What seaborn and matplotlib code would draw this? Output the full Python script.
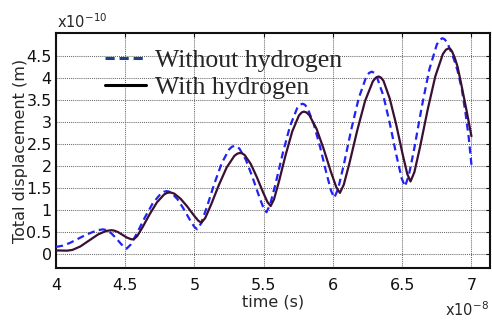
import matplotlib
matplotlib.use("Agg")
import matplotlib.pyplot as plt
import seaborn as sns
import pandas as pd
from matplotlib.lines import Line2D

# time in units of 1e-8 s, displacement in units of 1e-10 m
solid_x = [4.00, 4.08, 4.118, 4.176, 4.24, 4.304, 4.362, 4.40, 4.419, 4.448, 4.48, 4.512, 4.541, 4.56,
           4.586, 4.625, 4.677, 4.729, 4.781, 4.802, 4.82, 4.836, 4.855, 4.90, 4.947, 4.993, 5.027, 5.05,
           5.078, 5.12, 5.176, 5.232, 5.288, 5.310, 5.33, 5.345, 5.363, 5.407, 5.451, 5.495, 5.528, 5.55,
           5.574, 5.61, 5.658, 5.706, 5.754, 5.773, 5.79, 5.808, 5.829, 5.881, 5.933, 5.985, 6.024, 6.05,
           6.078, 6.12, 6.176, 6.232, 6.288, 6.310, 6.33, 6.346, 6.365, 6.41, 6.457, 6.503, 6.537, 6.56,
           6.588, 6.629, 6.684, 6.739, 6.794, 6.816, 6.835, 6.848, 6.86, 6.88, 6.90, 6.93, 6.965, 7.00]
solid_y = [0.07, 0.065, 0.081, 0.161, 0.298, 0.434, 0.514, 0.53, 0.523, 0.487, 0.425, 0.363, 0.327, 0.32,
           0.395, 0.598, 0.898, 1.165, 1.345, 1.379, 1.39, 1.383, 1.361, 1.245, 1.073, 0.879, 0.748, 0.70,
           0.811, 1.113, 1.559, 1.956, 2.223, 2.274, 2.29, 2.278, 2.239, 2.036, 1.733, 1.395, 1.165, 1.08,
           1.231, 1.639, 2.241, 2.779, 3.140, 3.209, 3.23, 3.212, 3.152, 2.842, 2.379, 1.861, 1.510, 1.38,
           1.566, 2.069, 2.811, 3.474, 3.919, 4.004, 4.03, 4.006, 3.930, 3.528, 2.931, 2.261, 1.807, 1.64,
           1.852, 2.428, 3.276, 4.034, 4.543, 4.640, 4.67, 4.655, 4.60, 4.45, 4.25, 3.80, 3.25, 2.67]

dashed_x = [4.00, 4.05, 4.10, 4.15, 4.20, 4.25, 4.30, 4.34, 4.366, 4.40, 4.434, 4.468, 4.493, 4.51,
            4.539, 4.583, 4.641, 4.699, 4.757, 4.780, 4.80, 4.815, 4.833, 4.877, 4.921, 4.965, 4.998, 5.02,
            5.047, 5.088, 5.142, 5.196, 5.25, 5.271, 5.29, 5.306, 5.325, 5.371, 5.417, 5.463, 5.497, 5.52,
            5.546, 5.585, 5.637, 5.689, 5.741, 5.762, 5.78, 5.796, 5.815, 5.86, 5.907, 5.953, 5.987, 6.01,
            6.037, 6.078, 6.132, 6.186, 6.24, 6.261, 6.28, 6.297, 6.316, 6.364, 6.412, 6.46, 6.496, 6.52,
            6.547, 6.588, 6.642, 6.696, 6.75, 6.771, 6.79, 6.805, 6.826, 6.874, 6.90, 6.93, 6.957, 6.98, 7.00]
dashed_y = [0.15, 0.18, 0.24, 0.32, 0.40, 0.47, 0.53, 0.55, 0.532, 0.458, 0.348, 0.224, 0.141, 0.11,
            0.202, 0.451, 0.817, 1.145, 1.365, 1.407, 1.42, 1.411, 1.383, 1.237, 1.020, 0.776, 0.611, 0.55,
            0.683, 1.044, 1.576, 2.051, 2.370, 2.431, 2.45, 2.435, 2.387, 2.133, 1.755, 1.333, 1.046, 0.94,
            1.113, 1.582, 2.274, 2.891, 3.306, 3.385, 3.41, 3.389, 3.320, 2.961, 2.426, 1.826, 1.420, 1.27,
            1.471, 2.016, 2.820, 3.537, 4.019, 4.111, 4.14, 4.114, 4.030, 3.592, 2.939, 2.209, 1.713, 1.53,
            1.766, 2.406, 3.350, 4.192, 4.758, 4.866, 4.90, 4.88, 4.80, 4.42, 4.16, 3.75, 3.20, 2.65, 2.02]

x_ticks = [4, 4.5, 5, 5.5, 6, 6.5, 7]
x_tick_labels = ["4", "4.5", "5", "5.5", "6", "6.5", "7"]
y_ticks = [0, 0.5, 1, 1.5, 2, 2.5, 3, 3.5, 4, 4.5]
y_tick_labels = ["0", "0.5", "1", "1.5", "2", "2.5", "3", "3.5", "4", "4.5"]
series_labels = ["Without hydrogen", "With hydrogen"]

sns.set_style("white")
plt.rcParams["font.family"] = ["DejaVu Sans"]

fig = plt.figure(figsize=(4.92, 3.23), dpi=100)
ax = fig.add_axes([56 / 492, 55 / 323, 434 / 492, 235 / 323])

df_wo = pd.DataFrame({"t": dashed_x, "d": dashed_y})
df_w = pd.DataFrame({"t": solid_x, "d": solid_y})

sns.lineplot(data=df_wo, x="t", y="d", ax=ax, color="#2222f5", lw=1.6,
             linestyle=(0, (3.2, 2.0)), estimator=None, sort=False, zorder=3)
sns.lineplot(data=df_w, x="t", y="d", ax=ax, color="#3b0f33", lw=1.6,
             estimator=None, sort=False, zorder=4)
for ln in ax.lines:
    ln.set_solid_joinstyle("round")
    ln.set_dash_joinstyle("round")

ax.set_xlim(4, 7.134)
ax.set_ylim(-0.33, 5.02)
ax.set_xticks(x_ticks)
ax.set_xticklabels(x_tick_labels)
ax.set_yticks(y_ticks)
ax.set_yticklabels(y_tick_labels)

ax.grid(True, color="#6a6a6a", linestyle=(0, (1, 1)), linewidth=0.75)
ax.set_axisbelow(True)
for s in ax.spines.values():
    s.set_color("#111111")
    s.set_linewidth(1.5)

ax.tick_params(axis="both", direction="in", length=3, width=0.8,
               top=True, right=True, labelsize=11.5, colors="#111111")
ax.tick_params(axis="x", pad=7)
ax.tick_params(axis="y", pad=3)

ax.set_xlabel("time (s)", fontsize=11.5, labelpad=1)
ax.set_ylabel("Total displacement (m)", fontsize=11.5, labelpad=-1)

fig.text(57 / 492, 1 - 28 / 323, "x10$^{-10}$", fontsize=10.5, ha="left", va="baseline")
fig.text(489 / 492, 1 - 316 / 323, "x10$^{-8}$", fontsize=10.5, ha="right", va="baseline")

handles = [Line2D([], [], color="#1f3f8a", lw=2.2, linestyle=(0, (3.0, 1.6))),
           Line2D([], [], color="black", lw=2.2)]
leg = ax.legend(handles, series_labels, loc="upper left",
                bbox_to_anchor=(0.113, 0.93), frameon=False,
                prop={"family": "Liberation Serif", "size": 18.5},
                handlelength=1.6, handletextpad=0.35, labelspacing=0.12,
                borderpad=0, borderaxespad=0)

fig.savefig("out.png", dpi=100)
